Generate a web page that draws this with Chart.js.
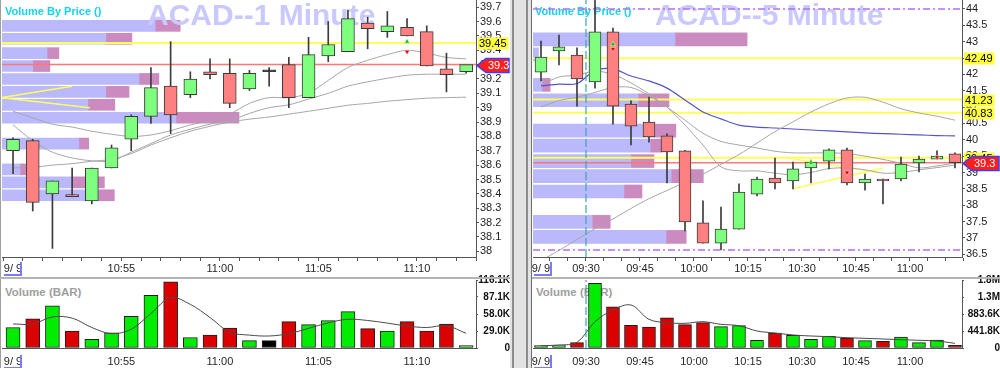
<!DOCTYPE html>
<html>
<head>
<meta charset="utf-8">
<title>ACAD 1 / 5 minute</title>
<script src="https://cdn.jsdelivr.net/npm/chart.js@4.4.0/dist/chart.umd.min.js"></script>
<style>
    html, body { margin: 0; padding: 0; background: #ffffff; }
    #stage { position: relative; width: 1000px; height: 368px; overflow: hidden; font-family: "Liberation Sans", Arial, sans-serif; }
    #stage canvas { position: absolute; }
    .mark { position: absolute; top: 0; font-size: 30px; line-height: 30px; font-weight: bold; color: #c9c9ff; white-space: nowrap; z-index: 2; }
    .vbp { position: absolute; top: 6px; font-size: 11px; line-height: 11px; font-weight: bold; color: #14d2f2; white-space: nowrap; z-index: 2; }
    .vbar { position: absolute; top: 286px; font-size: 11.5px; line-height: 12px; font-weight: bold; color: #9e9e9e; white-space: nowrap; z-index: 2; }
    .rule { position: absolute; z-index: 5; }
    .dmark { position: absolute; width: 16px; height: 12px; border-bottom: 2px solid #7a7aff; border-right: 2px solid #7a7aff; z-index: 5; }
</style>
</head>
<body>
<div id="stage">
    <canvas id="leftProfile" width="510" height="276" style="left:0;top:0;z-index:1"></canvas>
    <div class="mark" style="left:147px">ACAD--1 Minute</div>
    <div class="vbp" style="left:5px">Volume By Price ()</div>
    <div class="vbar" style="left:5px">Volume (BAR)</div>
    <canvas id="leftPrice" width="510" height="276" style="left:0;top:0;z-index:3"></canvas>
    <canvas id="leftVolume" width="510" height="100" style="left:0;top:268px;z-index:3"></canvas>

    <canvas id="rightProfile" width="470" height="276" style="left:530px;top:0;z-index:1"></canvas>
    <div class="mark" style="left:655px">ACAD--5 Minute</div>
    <div class="vbp" style="left:535px">Volume By Price ()</div>
    <div class="vbar" style="left:536px">Volume (BAR)</div>
    <canvas id="rightPrice" width="470" height="276" style="left:530px;top:0;z-index:3"></canvas>
    <canvas id="rightVolume" width="470" height="100" style="left:530px;top:268px;z-index:3"></canvas>

    <div class="rule" style="left:0;top:0;width:1px;height:368px;background:#a0a0a0"></div>
    <div class="rule" style="left:0;top:277px;width:510px;height:2px;background:#b4b4b4"></div>
    <div class="rule" style="left:531px;top:277px;width:469px;height:2px;background:#b4b4b4"></div>
    <div class="rule" style="left:510px;top:0;width:21px;height:368px;background:#e2e2e2"></div>
    <div class="rule" style="left:512px;top:0;width:2px;height:368px;background:#8c8c8c"></div>
    <div class="rule" style="left:526px;top:0;width:2px;height:368px;background:#8c8c8c"></div>
    <div class="rule" style="left:531px;top:0;width:1px;height:368px;background:#707070"></div>

    <div class="dmark" style="left:4px;top:262px"></div>
    <div class="dmark" style="left:4px;top:355px"></div>
    <div class="dmark" style="left:534px;top:262px"></div>
    <div class="dmark" style="left:534px;top:355px"></div>
</div>

<script>
const FONT = '"Liberation Sans Narrow", "Liberation Sans", Arial, sans-serif';
const AXIS = '#555555';

// ---------- ACAD 1 minute (10:50 - 11:13) ----------
const leftOpen  = [38.70, 38.77, 38.40, 38.39, 38.35, 38.58, 38.78, 38.94, 39.15, 39.09, 39.25, 39.24, 39.13, 39.25, 39.30, 39.07, 39.36, 39.39, 39.59, 39.53, 39.56, 39.53, 39.27, 39.25];
const leftHigh  = [38.79, 38.78, 38.49, 38.58, 38.58, 38.74, 38.95, 39.28, 39.46, 39.25, 39.34, 39.34, 39.26, 39.28, 39.35, 39.49, 39.60, 39.68, 39.63, 39.67, 39.62, 39.57, 39.38, 39.29];
const leftLow   = [38.54, 38.28, 38.02, 38.38, 38.33, 38.58, 38.70, 38.89, 38.82, 39.07, 39.20, 39.00, 39.12, 39.15, 39.00, 39.07, 39.32, 39.39, 39.41, 39.49, 39.50, 39.29, 39.11, 39.24];
const leftClose = [38.78, 38.34, 38.49, 38.38, 38.58, 38.72, 38.94, 39.14, 38.95, 39.20, 39.23, 39.03, 39.24, 39.25, 39.07, 39.37, 39.44, 39.62, 39.55, 39.57, 39.50, 39.29, 39.23, 39.30];
const leftVolume    = [35, 50, 72, 29, 15, 26, 54, 90, 113, 18, 22, 34, 12.5, 12.5, 45, 40, 47, 62, 33, 29, 45, 29, 41, 4];
const leftVolumeAvg = [41, 41, 53, 51, 35, 24.5, 32, 59, 86, 74.5, 52, 27, 22, 20.5, 24.5, 33.5, 43, 49, 47, 42.5, 37.5, 35, 38, 25];
const leftMaFast = [38.975, 38.93, 38.885, 38.865, 38.836, 38.815, 38.80, 38.81, 38.84, 38.88, 38.91, 38.955, 39.03, 39.07, 39.07, 39.10, 39.19, 39.28, 39.33, 39.37, 39.40, 39.38, 39.35, 39.34];
const leftMaMid  = [38.88, 38.77, 38.69, 38.65, 38.63, 38.63, 38.69, 38.75, 38.81, 38.85, 38.885, 38.91, 38.96, 39.00, 39.02, 39.06, 39.10, 39.15, 39.18, 39.205, 39.226, 39.233, 39.233, 39.233];
const leftMaSlow = [38.58, 38.585, 38.60, 38.61, 38.627, 38.64, 38.68, 38.74, 38.79, 38.836, 38.87, 38.90, 38.92, 38.935, 38.955, 38.975, 38.996, 39.017, 39.03, 39.045, 39.056, 39.066, 39.07, 39.073];
const leftTickPos    = [0, 5.5, 10.5, 15.5, 20.5];
const leftTickLabels = ['9/ 9', '10:55', '11:00', '11:05', '11:10'];
const leftVolTicks      = [0, 29.0, 58.0, 87.1, 116.1];
const leftVolTickLabels = ['0', '29.0K', '58.0K', '87.1K', '116.1K'];
const leftProfilePrice = [39.57, 39.48, 39.38, 39.29, 39.20, 39.11, 39.02, 38.93, 38.75, 38.57, 38.48, 38.39];
const leftProfileUp    = [32.3, 21.9, 9.5, 6.5, 28.9, 21.9, 18.1, 36.7, 16.2, 3.8, 14.8, 20.3];
const leftProfileDown  = [5.3, 5.5, 2.5, 3.6, 4.2, 4.9, 5.7, 13.3, 2.1, 1.3, 6.8, 3.4];
const leftLevels = [39.45];
const leftLast = 39.3;
const leftTrends = [[[-0.56, 39.07], [3.0, 39.15]], [[-0.56, 39.07], [3.9, 39.00]]];
const leftUpMarks   = [[20, 39.46]];
const leftDownMarks = [[20, 39.39]];
const leftTagValues = [39.45, 39.3];
const leftTagTexts  = ['39.45', '39.3'];
const leftTagKinds  = ['level', 'last'];

// ---------- ACAD 5 minute (09:15 - 11:10) ----------
const rightOpen  = [42.07, 42.72, 42.59, 41.77, 43.30, 41.09, 40.54, 40.12, 39.66, 37.46, 36.84, 37.27, 38.34, 38.83, 38.74, 39.14, 39.35, 39.69, 38.68, 38.80, 38.80, 39.29, 39.41, 39.57];
const rightHigh  = [43.02, 43.20, 42.81, 44.30, 43.42, 41.19, 41.31, 40.18, 39.68, 38.13, 37.94, 38.65, 38.86, 39.44, 39.32, 39.38, 39.72, 39.75, 38.95, 38.80, 39.47, 39.50, 39.66, 39.60];
const rightLow   = [41.80, 42.29, 41.03, 41.58, 40.48, 39.84, 39.93, 38.68, 37.21, 36.84, 36.63, 37.27, 38.28, 38.50, 38.50, 38.68, 39.11, 38.62, 38.46, 38.04, 38.74, 39.02, 39.41, 39.14];
const rightClose = [42.53, 42.84, 41.86, 43.30, 41.03, 40.42, 40.09, 39.63, 37.49, 36.84, 37.27, 38.40, 38.80, 38.68, 39.11, 39.32, 39.69, 38.68, 38.80, 38.74, 39.26, 39.41, 39.50, 39.30];
const rightVolume    = [60, 60, 138, 1680, 1073, 590, 546, 787, 606, 658, 554, 580, 200, 390, 330, 226, 304, 260, 190, 174, 286, 138, 208, 70];
const rightVolumeAvg = [60, 78, 147, 684, 988, 1117, 745, 658, 641, 684, 615, 580, 442, 390, 338, 312, 294, 268, 251, 234, 216, 200, 182, 121];
const rightVwap   = [41.65, 41.70, 41.72, 42.12, 42.17, 41.95, 41.80, 41.58, 41.22, 40.85, 40.64, 40.45, 40.39, 40.36, 40.33, 40.30, 40.27, 40.24, 40.21, 40.19, 40.17, 40.15, 40.13, 40.12];
const rightMaFast = [41.68, 41.92, 41.98, 42.10, 42.00, 41.74, 41.40, 41.00, 40.45, 39.84, 39.17, 39.05, 39.05, 38.98, 38.93, 39.00, 39.12, 39.14, 39.08, 38.98, 39.00, 39.08, 39.15, 39.23];
const rightMaMid  = [41.00, 41.20, 41.30, 41.45, 41.60, 41.60, 41.35, 41.00, 40.60, 40.20, 39.95, 39.84, 39.75, 39.65, 39.60, 39.60, 39.60, 39.58, 39.50, 39.40, 39.28, 39.14, 39.20, 39.29];
const rightMaSlow = [36.30, 36.62, 36.95, 37.28, 37.58, 37.90, 38.20, 38.45, 38.70, 38.95, 39.25, 39.55, 39.90, 40.25, 40.55, 40.85, 41.10, 41.28, 41.30, 41.15, 40.95, 40.82, 40.72, 40.60];
const rightTickPos    = [0, 2.5, 5.5, 8.5, 11.5, 14.5, 17.5, 20.5];
const rightTickLabels = ['9/ 9', '09:30', '09:45', '10:00', '10:15', '10:30', '10:45', '11:00'];
const rightVolTicks      = [0, 441.8, 883.6, 1325.4, 1767.2];
const rightVolTickLabels = ['0', '441.8K', '883.6K', '1.3M', '1.8M'];
const rightProfilePrice = [43.07, 42.61, 41.68, 41.21, 40.28, 39.82, 39.35, 38.89, 38.42, 37.49, 37.03];
const rightProfileUp    = [33.1, 1.2, 2.1, 24.5, 28.4, 27.3, 22.8, 32.2, 21.2, 13.8, 31.0];
const rightProfileDown  = [16.8, 0, 1.9, 7.2, 4.9, 2.8, 5.4, 7.5, 4.2, 4.2, 4.7];
const rightLevels = [42.49, 41.23, 40.83, 39.45];
const rightRange = [44.0, 36.63];
const rightLast = 39.3;
const rightSessionStart = 2.5;
const rightTrends = [[[13.4, 39.47], [18.8, 39.00]], [[14.0, 38.50], [19.0, 39.14]]];
const rightUpMarks   = [[4, 42.92], [15, 39.30]];
const rightDownMarks = [[4, 42.78], [17, 39.00], [22, 39.47]];
const rightTagValues = [42.49, 41.23, 40.83, 39.45, 39.3];
const rightTagTexts  = ['42.49', '41.23', '40.83', '39.45', '39.3'];
const rightTagKinds  = ['level', 'level', 'level', 'level', 'last'];

// price flags drawn on the right axis
const priceTags =
{
    id: 'priceTags',
    afterDraw(chart, args, opts)
    {
        if (!opts.values)
        {
            return;
        }
        const ctx = chart.ctx;
        const yScale = chart.scales.y;
        const x0 = chart.chartArea.right;
        const edge = chart.width;
        ctx.save();
        ctx.font = '11px ' + FONT;
        ctx.textBaseline = 'middle';
        ctx.textAlign = 'left';
        opts.values.forEach((v, k) =>
        {
            const y = Math.round(yScale.getPixelForValue(v)) + 0.5;
            const text = opts.texts[k];
            const w = ctx.measureText(text).width;
            if (opts.kinds[k] === 'last')
            {
                ctx.beginPath();
                ctx.moveTo(x0 + 1, y);
                ctx.lineTo(x0 + 10, y - 7);
                ctx.lineTo(edge - 1, y - 7);
                ctx.lineTo(edge - 1, y + 7);
                ctx.lineTo(x0 + 10, y + 7);
                ctx.closePath();
                ctx.fillStyle = '#ff1e1e';
                ctx.fill();
                ctx.strokeStyle = '#3c3cff';
                ctx.lineWidth = 1.5;
                ctx.stroke();
                ctx.fillStyle = '#ffffff';
                ctx.fillText(text, x0 + 12, y + 0.5);
            }
            else
            {
                ctx.fillStyle = '#ffff3c';
                ctx.fillRect(x0 + 2, y - 6, w + 3, 12);
                ctx.fillStyle = '#000000';
                ctx.fillText(text, x0 + 3, y + 0.5);
            }
        });
        ctx.restore();
    }
};

function points(values)
{
    return values.map((v, i) => ({ x: i, y: v }));
}

function buildPanel(p)
{
    const n = p.open.length;
    const idx = p.open.map((v, i) => i);
    const dir = p.open.map((o, i) => p.close[i] > o ? 1 : (p.close[i] < o ? -1 : 0));
    const bodyColors = dir.map(d => d > 0 ? '#7eff7e' : (d < 0 ? '#ff8080' : '#111111'));
    const volColors = dir.map(d => d > 0 ? '#00ec00' : (d < 0 ? '#dc0000' : '#000000'));

    const xTicks = [];
    for (let i = 0; i <= n; i++)
    {
        xTicks.push(i - 0.5);
    }
    p.tickPos.forEach(v => { if (!xTicks.includes(v)) xTicks.push(v); });
    xTicks.sort((a, b) => a - b);

    const hLine = v => [{ x: p.xMin, y: v }, { x: p.xMax, y: v }];
    const line = (data, color, width, dash, order, tension) => ({
        type: 'line', data: data, borderColor: color, borderWidth: width, borderDash: dash || [],
        pointRadius: 0, fill: false, tension: tension || 0, order: order
    });

    function xAxis(height, tickLen, pad)
    {
        return {
            type: 'linear', min: p.xMin, max: p.xMax, offset: false,
            grid:
            {
                display: tickLen > 0, drawOnChartArea: false, offset: false, tickLength: tickLen, color: AXIS,
                tickColor: c => (c.tick && c.tick.value === p.tickPos[0]) ? 'rgba(0,0,0,0)' : AXIS
            },
            border: { display: true, color: AXIS },
            afterBuildTicks: s => { s.ticks = xTicks.map(v => ({ value: v })); },
            ticks:
            {
                autoSkip: false, maxRotation: 0, minRotation: 0, padding: pad, color: '#262626',
                font: { family: FONT, size: 11 },
                callback: v => { const k = p.tickPos.indexOf(v); return k < 0 ? '' : p.tickLabels[k]; }
            },
            afterFit: s => { s.height = height; s.paddingLeft = 0; s.paddingRight = 0; }
        };
    }

    const quiet = { legend: { display: false }, tooltip: { enabled: false } };

    // volume by price (horizontal bars behind the candles)
    new Chart(document.getElementById(p.id + 'Profile'),
    {
        type: 'bar',
        data:
        {
            datasets:
            [
                {
                    data: p.profilePrice.map((v, i) => ({ x: p.profileUp[i], y: v })),
                    backgroundColor: '#b9b9fb', borderWidth: 0, barThickness: p.profileW
                },
                {
                    data: p.profilePrice.map((v, i) => ({ x: p.profileDown[i], y: v })),
                    backgroundColor: '#cc8bc0', borderWidth: 0, barThickness: p.profileW
                }
            ]
        },
        options:
        {
            indexAxis: 'y', responsive: false, animation: false, events: [],
            layout: { autoPadding: false, padding: { left: p.padLeft, right: p.axisW, top: 0, bottom: 19 } },
            scales:
            {
                y: { type: 'linear', min: p.yMin, max: p.yMax, display: false, stacked: true, offset: false },
                x: { type: 'linear', min: 0, max: 100, display: false, stacked: true }
            },
            plugins: quiet
        }
    });

    // candles, averages and levels
    const priceSets = [];
    p.levels.forEach(v => priceSets.push(line(hLine(v), '#ffff5a', 2, [], 12)));
    (p.range || []).forEach(v => priceSets.push(line(hLine(v), '#b26cff', 1.5, [7, 3, 2, 3], 12)));
    priceSets.push(line(hLine(p.last), '#ff7676', 1.5, [], 11));
    p.trends.forEach(t => priceSets.push(line(t.map(q => ({ x: q[0], y: q[1] })), '#ffff5a', 1.5, [], 11)));
    if (p.session !== undefined)
    {
        priceSets.push(line([{ x: p.session, y: p.yMin }, { x: p.session, y: p.yMax }], '#3aa6bc', 1.2, [8, 3], 4));
    }
    p.averages.forEach(a => priceSets.push(line(points(a.values), a.color, a.width, [], 9, 0.3)));
    priceSets.push({
        type: 'bar', data: idx.map(i => ({ x: i, y: [p.low[i], p.high[i]] })),
        backgroundColor: '#3c3c3c', borderWidth: 0, barThickness: 1, grouped: false, order: 3
    });
    priceSets.push({
        type: 'bar', data: idx.map(i => ({ x: i, y: [p.open[i], p.close[i]] })),
        backgroundColor: bodyColors, borderColor: '#3a3a3a', borderWidth: 1, borderSkipped: false,
        barThickness: p.bodyW, minBarLength: 2, grouped: false, order: 2
    });
    priceSets.push({
        type: 'line', showLine: false, data: p.upMarks.map(q => ({ x: q[0], y: q[1] })),
        pointStyle: 'triangle', pointRadius: 3, pointBackgroundColor: '#00c800', pointBorderColor: '#ffffff', pointBorderWidth: 0.5, order: 1
    });
    priceSets.push({
        type: 'line', showLine: false, data: p.downMarks.map(q => ({ x: q[0], y: q[1] })),
        pointStyle: 'triangle', pointRotation: 180, pointRadius: 3, pointBackgroundColor: '#e00000', pointBorderColor: '#ffffff', pointBorderWidth: 0.5, order: 1
    });

    new Chart(document.getElementById(p.id + 'Price'),
    {
        type: 'bar',
        data: { datasets: priceSets },
        plugins: [priceTags],
        options:
        {
            responsive: false, animation: false, events: [],
            layout: { autoPadding: false, padding: { left: p.padLeft, right: 0, top: 0, bottom: 0 } },
            scales:
            {
                x: xAxis(19, 4, 1),
                y:
                {
                    position: 'right', min: p.yMin, max: p.yMax,
                    grid: { drawOnChartArea: false, tickLength: 3, color: AXIS },
                    border: { display: true, color: AXIS },
                    ticks:
                    {
                        stepSize: p.yStep, includeBounds: false, autoSkip: false, padding: 1, color: '#1e1e1e',
                        font: { family: FONT, size: 11 },
                        callback: v => String(Math.round(v * 100) / 100)
                    },
                    afterFit: s => { s.width = p.axisW; s.paddingTop = 0; s.paddingBottom = 0; }
                }
            },
            plugins: Object.assign({ priceTags: { values: p.tagValues, texts: p.tagTexts, kinds: p.tagKinds } }, quiet)
        }
    });

    // volume
    const volSets =
    [
        line(points(p.volumeAvg), '#4a4a4a', 1, [], 1, 0.35),
        {
            type: 'bar', data: points(p.volume), backgroundColor: volColors, borderColor: '#1c1c1c',
            borderWidth: 1, borderSkipped: false, barThickness: p.volW, grouped: false, order: 2
        }
    ];
    if (p.session !== undefined)
    {
        volSets.unshift(line([{ x: p.session, y: 0 }, { x: p.session, y: p.volMax }], '#3aa6bc', 1.2, [8, 3], 0));
    }

    new Chart(document.getElementById(p.id + 'Volume'),
    {
        type: 'bar',
        data: { datasets: volSets },
        options:
        {
            responsive: false, animation: false, events: [],
            layout: { autoPadding: false, padding: { left: p.padLeft, right: 0, top: 12, bottom: 0 } },
            scales:
            {
                x: xAxis(20, 0, 7),
                y:
                {
                    position: 'right', min: 0, max: p.volMax,
                    grid: { drawOnChartArea: false, tickLength: 2, color: AXIS },
                    border: { display: true, color: AXIS },
                    afterBuildTicks: s => { s.ticks = p.volTicks.map(v => ({ value: v })); },
                    ticks:
                    {
                        crossAlign: 'far', autoSkip: false, padding: 2, color: '#111111',
                        font: { family: FONT, size: 10, weight: 'bold' },
                        callback: v => p.volTickLabels[p.volTicks.indexOf(v)]
                    },
                    afterFit: s => { s.width = p.axisW; s.paddingTop = 0; s.paddingBottom = 0; }
                }
            },
            plugins: quiet
        }
    });
}

buildPanel({
    id: 'left', open: leftOpen, high: leftHigh, low: leftLow, close: leftClose,
    volume: leftVolume, volumeAvg: leftVolumeAvg,
    averages:
    [
        { values: leftMaFast, color: '#a6a6a6', width: 1 },
        { values: leftMaMid, color: '#a6a6a6', width: 1 },
        { values: leftMaSlow, color: '#a6a6a6', width: 1 }
    ],
    tickPos: leftTickPos, tickLabels: leftTickLabels,
    volTicks: leftVolTicks, volTickLabels: leftVolTickLabels, volMax: 116.1,
    profilePrice: leftProfilePrice, profileUp: leftProfileUp, profileDown: leftProfileDown,
    levels: leftLevels, last: leftLast, trends: leftTrends,
    upMarks: leftUpMarks, downMarks: leftDownMarks,
    tagValues: leftTagValues, tagTexts: leftTagTexts, tagKinds: leftTagKinds,
    xMin: -0.56, xMax: 23.5, yMin: 37.96, yMax: 39.75, yStep: 0.1,
    padLeft: 2, axisW: 34, bodyW: 13, volW: 14, profileW: 11
});

buildPanel({
    id: 'right', open: rightOpen, high: rightHigh, low: rightLow, close: rightClose,
    volume: rightVolume, volumeAvg: rightVolumeAvg,
    averages:
    [
        { values: rightMaSlow, color: '#a6a6a6', width: 1 },
        { values: rightMaMid, color: '#a6a6a6', width: 1 },
        { values: rightMaFast, color: '#a6a6a6', width: 1 },
        { values: rightVwap, color: '#5454cc', width: 1.2 }
    ],
    tickPos: rightTickPos, tickLabels: rightTickLabels,
    volTicks: rightVolTicks, volTickLabels: rightVolTickLabels, volMax: 1767.2,
    profilePrice: rightProfilePrice, profileUp: rightProfileUp, profileDown: rightProfileDown,
    levels: rightLevels, range: rightRange, last: rightLast, trends: rightTrends, session: rightSessionStart,
    upMarks: rightUpMarks, downMarks: rightDownMarks,
    tagValues: rightTagValues, tagTexts: rightTagTexts, tagKinds: rightTagKinds,
    xMin: -0.444, xMax: 23.39, yMin: 36.416, yMax: 44.275, yStep: 0.5,
    padLeft: 3, axisW: 38, bodyW: 12, volW: 13, profileW: 13
});
</script>
</body>
</html>
